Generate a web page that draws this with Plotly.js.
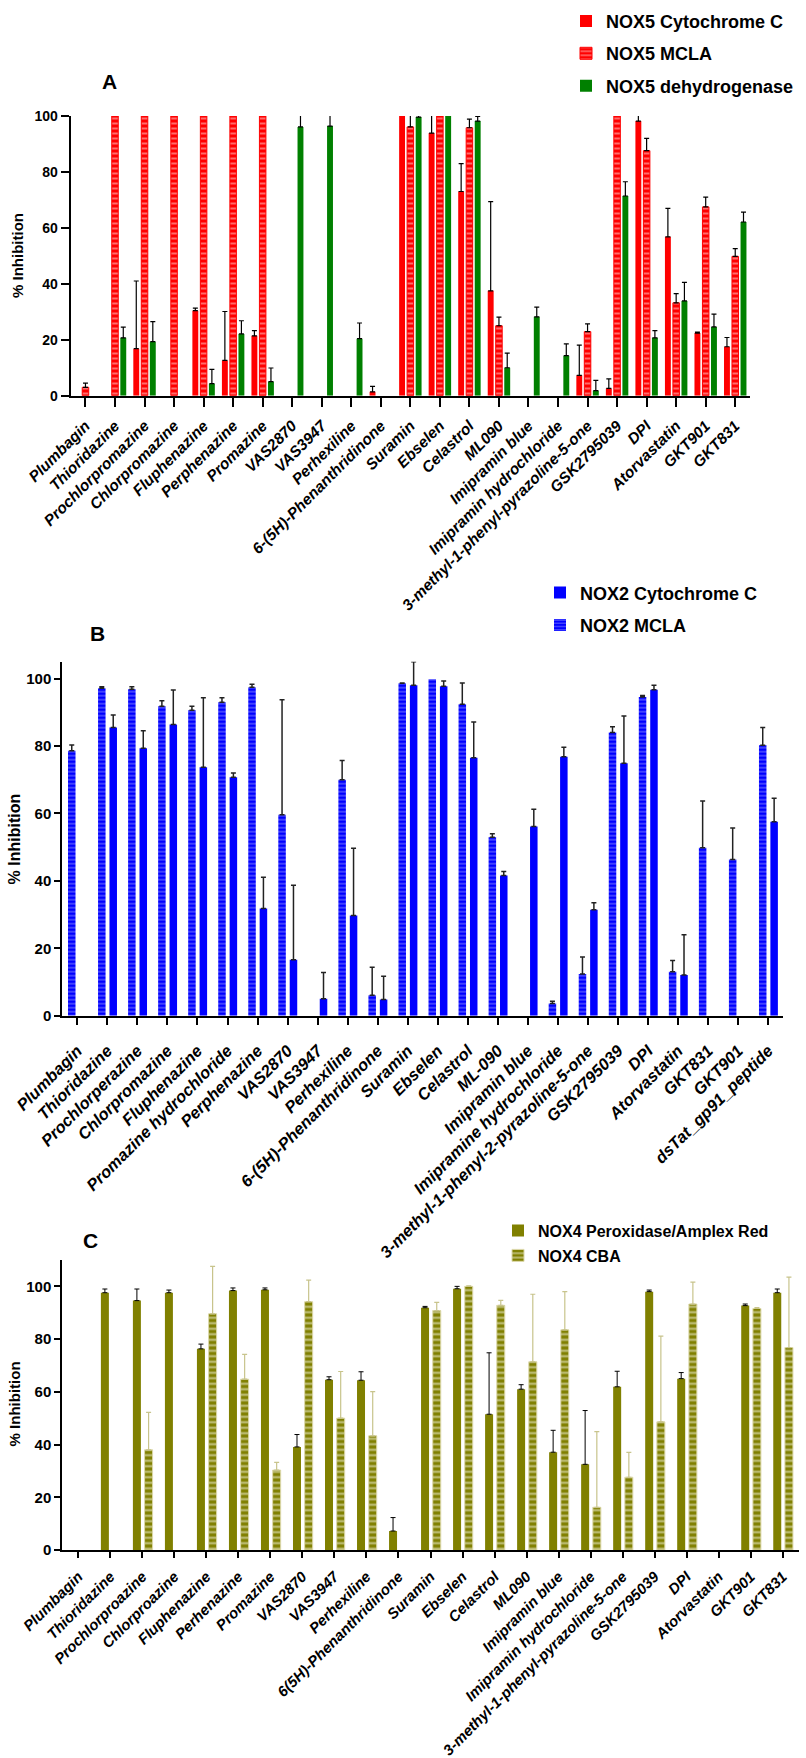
<!DOCTYPE html>
<html>
<head>
<meta charset="utf-8">
<script src="https://cdn.plot.ly/plotly-3.0.1.min.js"></script>
<style>html,body{margin:0;padding:0;background:#fff;}#chart{width:806px;height:1758px;}</style>
</head>
<body>
<div id="chart"></div>
<script>
// ---------- Panel A (NOX5) ----------
const catsA = ["Plumbagin","Thioridazine","Prochlorpromazine","Chlorpromazine","Fluphenazine","Perphenazine","Promazine","VAS2870","VAS3947","Perhexiline","6-(5H)-Phenanthridinone","Suramin","Ebselen","Celastrol","ML090","Imipramin blue","Imipramin hydrochloride","3-methyl-1-phenyl-pyrazoline-5-one","GSK2795039","DPI","Atorvastatin","GKT901","GKT831"];
const nox5CytC    = [null, null, 16.8, null, 30.4, 12.6, 21.4, null, null, null, 1.4, 100, 93.9, 73.0, 37.5, null, null, 7.3, 2.6, 98.2, 56.8, 22.4, 17.5];
const nox5CytCSD  = [null, null, 24.2, null, 0.9, 17.5, 1.9, null, null, null, 1.9, null, 7.6, 10.0, 31.9, null, null, 10.8, 3.4, 3.3, 10.2, 0.3, 3.3];
const nox5MCLA    = [3.0, 100, 100, 100, 100, 100, 100, null, null, null, null, 96.1, 100, 95.8, 25.0, null, null, 22.9, 100, 87.6, 33.2, 67.5, 49.8];
const nox5MCLASD  = [1.5, null, null, null, null, null, null, null, null, null, null, 5.4, null, 3.1, 3.1, null, null, 2.8, null, 4.4, 3.3, 3.5, 2.8];
const nox5Dehyd   = [null, 20.7, 19.3, null, 4.3, 22.1, 5.0, 96.1, 96.4, 20.4, null, 99.6, 100, 98.2, 10.0, 28.2, 14.3, 1.8, 71.4, 20.7, 33.9, 24.6, 62.1];
const nox5DehydSD = [null, 3.8, 7.2, null, 5.1, 4.7, 4.9, 5.4, 5.1, 5.6, null, 1.2, null, 1.7, 5.2, 3.5, 4.2, 3.7, 5.1, 2.6, 6.6, 4.6, 3.5];

// ---------- Panel B (NOX2) ----------
const catsB = ["Plumbagin","Thioridazine","Prochlorperazine","Chlorpromazine","Fluphenazine","Promazine hydrochloride","Perphenazine","VAS2870","VAS3947","Perhexiline","6-(5H)-Phenanthridinone","Suramin","Ebselen","Celastrol","ML-090","Imipramin blue","Imipramine hydrochloride","3-methyl-1-phenyl-2-pyrazoline-5-one","GSK2795039","DPI","Atorvastatin","GKT831","GKT901","dsTat_gp91_peptide"];
const nox2MCLA   = [78.6, 97.1, 96.8, 91.8, 90.6, 93.0, 97.4, 59.6, null, 70.0, 6.1, 98.6, 99.8, 92.4, 52.9, null, 3.6, 12.4, 84.0, 94.5, 13.0, 49.8, 46.3, 80.2];
const nox2MCLASD = [1.7, 0.5, 0.8, 1.6, 1.2, 1.3, 0.9, 34.1, null, 5.7, 8.3, 0.1, null, 6.3, 1.1, null, 0.7, 5.0, 1.7, 0.5, 3.4, 13.9, 9.4, 5.3];
const nox2CytC   = [null, 85.5, 79.3, 86.4, 73.7, 70.7, 31.8, 16.6, 5.0, 29.7, 4.8, 98.0, 97.7, 76.5, 41.6, 56.1, 76.8, 31.4, 74.9, 96.7, 12.1, null, null, 57.5];
const nox2CytCSD = [null, 3.7, 5.2, 10.2, 20.6, 1.3, 9.3, 22.1, 7.8, 20.0, 6.9, 7.0, 1.6, 10.6, 1.2, 5.1, 2.8, 2.1, 14.0, 1.3, 11.9, null, null, 7.0];

// ---------- Panel C (NOX4) ----------
const catsC = ["Plumbagin","Thioridazine","Prochlorproazine","Chlorproazine","Fluphenazine","Perhenazine","Promazine","VAS2870","VAS3947","Perhexiline","6(5H)-Phenanthridinone","Suramin","Ebselen","Celastrol","ML090","Imipramin blue","Imipramin hydrochloride","3-methyl-1-phenyl-pyrazoline-5-one","GSK2795039","DPI","Atorvastatin","GKT901","GKT831"];
const nox4Amplex   = [null, 97.6, 94.6, 97.6, 76.3, 98.4, 98.7, 39.1, 64.6, 64.4, 7.2, 91.9, 99.1, 51.5, 61.0, 37.1, 32.5, 61.9, 98.0, 65.0, null, 92.7, 97.6];
const nox4AmplexSD = [null, 1.4, 4.4, 1.0, 1.8, 1.0, 0.7, 4.7, 1.1, 3.2, 5.1, 0.5, 0.9, 23.3, 1.7, 8.3, 20.4, 5.9, 0.6, 2.3, null, 0.6, 1.4];
const nox4CBA      = [null, null, 38.0, null, 89.6, 64.8, 30.3, 94.2, 50.0, 43.3, null, 90.8, 100, 92.8, 71.4, 83.5, 16.2, 27.6, 48.6, 93.3, null, 91.6, 76.8];
const nox4CBASD    = [null, null, 14.2, null, 18.0, 9.4, 2.9, 8.2, 17.7, 16.8, null, 3.1, 0.2, 1.9, 25.6, 14.5, 28.7, 9.4, 32.5, 8.3, null, 0.3, 26.7];

const yTicks = [0, 20, 40, 60, 80, 100];

// ---------- helpers ----------
function upErr(sd, color, thickness) {
  return {
    type: 'data', symmetric: false, visible: true,
    array: sd.map(s => s === null ? NaN : s),
    arrayminus: sd.map(s => s === null ? NaN : 0),
    color: color, thickness: thickness, width: 2.5
  };
}
function barTrace(o) {
  const t = {
    type: 'bar', name: o.name, x: o.cats, y: o.y,
    xaxis: o.xa, yaxis: o.ya, legend: o.legend, legendgroup: o.name,
    offset: o.center - o.width / 2, width: o.width,
    marker: { color: o.color, line: o.line || { width: 0 } },
    error_y: upErr(o.sd, o.errColor, o.errThick),
    cliponaxis: false, hoverinfo: 'x+y+name'
  };
  if (o.pattern) t.marker.pattern = o.pattern;
  return t;
}

const FONT = 'Liberation Sans, Arial, sans-serif';

const traces = [
  barTrace({name: 'NOX5 Cytochrome C', cats: catsA, y: nox5CytC, sd: nox5CytCSD, xa: 'x', ya: 'y', legend: 'legend',
            center: -0.28, width: 0.2, color: '#ff0000', errColor: '#000', errThick: 1.2}),
  barTrace({name: 'NOX5 MCLA', cats: catsA, y: nox5MCLA, sd: nox5MCLASD, xa: 'x', ya: 'y', legend: 'legend',
            center: 0, width: 0.22, color: '#ff0000', errColor: '#000', errThick: 1.2,
            line: {color: '#ff0000', width: 1},
            pattern: {shape: '-', bgcolor: '#ff0000', fgcolor: 'rgba(255,255,255,0.85)', size: 5, solidity: 0.4, fillmode: 'overlay'}}),
  barTrace({name: 'NOX5 dehydrogenase', cats: catsA, y: nox5Dehyd, sd: nox5DehydSD, xa: 'x', ya: 'y', legend: 'legend',
            center: 0.28, width: 0.2, color: '#008000', errColor: '#000', errThick: 1.2}),

  barTrace({name: 'NOX2 Cytochrome C', cats: catsB, y: nox2CytC, sd: nox2CytCSD, xa: 'x2', ya: 'y2', legend: 'legend2',
            center: 0.195, width: 0.25, color: '#0000ff', errColor: '#222', errThick: 1.5}),
  barTrace({name: 'NOX2 MCLA', cats: catsB, y: nox2MCLA, sd: nox2MCLASD, xa: 'x2', ya: 'y2', legend: 'legend2',
            center: -0.185, width: 0.25, color: '#0000ff', errColor: '#222', errThick: 1.5,
            pattern: {shape: '-', bgcolor: '#0000ff', fgcolor: 'rgba(255,255,255,0.85)', size: 4, solidity: 0.3, fillmode: 'overlay'}}),

  barTrace({name: 'NOX4 Peroxidase/Amplex Red', cats: catsC, y: nox4Amplex, sd: nox4AmplexSD, xa: 'x3', ya: 'y3', legend: 'legend3',
            center: -0.17, width: 0.25, color: '#808000', errColor: '#000', errThick: 1}),
  barTrace({name: 'NOX4 CBA', cats: catsC, y: nox4CBA, sd: nox4CBASD, xa: 'x3', ya: 'y3', legend: 'legend3',
            center: 0.195, width: 0.25, color: '#808000', errColor: '#c8c48c', errThick: 1.2,
            line: {color: '#dcd8aa', width: 1},
            pattern: {shape: '-', bgcolor: '#808000', fgcolor: '#f2f1dc', size: 5.5, solidity: 0.45, fillmode: 'overlay'}})
];
traces[3].legendrank = 1; traces[4].legendrank = 2;

const W = 806, H = 1758;
const px = v => v / W;
const py = v => 1 - v / H;

function xAxis(cats, left, right, anchor, fsize, tlen, standoff) {
  return {
    domain: [px(left), px(right)], anchor: anchor, type: 'category',
    categoryorder: 'array', categoryarray: cats,
    range: [-0.5, cats.length - 0.5],
    tickmode: 'array', tickvals: cats, ticktext: cats,
    tickangle: -45, ticks: 'outside', ticklen: tlen, tickwidth: 2, tickcolor: '#000',
    ticklabelstandoff: standoff,
    showline: true, linewidth: 2, linecolor: '#000', showgrid: false, zeroline: false,
    tickfont: {family: FONT, size: fsize, color: '#000', weight: 'bold', style: 'italic'},
    fixedrange: true
  };
}
function yAxis(top, bottom, anchor, maxv, fsize, tlen) {
  return {
    domain: [py(bottom), py(top)], anchor: anchor, range: [0, maxv],
    tickmode: 'array', tickvals: yTicks, ticks: 'outside', ticklen: tlen, tickwidth: 2, tickcolor: '#000',
    showline: true, linewidth: 2, linecolor: '#000', showgrid: false, zeroline: false,
    tickfont: {family: FONT, size: fsize, color: '#000', weight: 'bold'},
    fixedrange: true
  };
}
function legendBox(textLeft, midY, fsize, gap) {
  return {
    x: px(textLeft - 40), xanchor: 'left', y: py(midY), yanchor: 'middle',
    bgcolor: 'rgba(0,0,0,0)', borderwidth: 0, traceorder: 'grouped', tracegroupgap: gap,
    font: {family: FONT, size: fsize, color: '#000', weight: 'bold'}
  };
}
function ann(text, x, y, size, angle) {
  return {text: text, xref: 'paper', yref: 'paper', x: px(x), y: py(y), xanchor: 'center', yanchor: 'middle',
          showarrow: false, textangle: angle || 0, font: {family: FONT, size: size, color: '#000', weight: 'bold'}};
}

const layout = {
  width: W, height: H, margin: {l: 0, r: 0, t: 0, b: 0},
  paper_bgcolor: '#fff', plot_bgcolor: '#fff', barmode: 'overlay',
  font: {family: FONT, color: '#000'},
  xaxis:  xAxis(catsA, 70.7, 750, 'y', 15.5, 9, 4),
  yaxis:  yAxis(116, 395.7, 'x', 100, 14, 8),
  xaxis2: xAxis(catsB, 62.3, 783.3, 'y2', 16.5, 7, 10),
  yaxis2: yAxis(661.7, 1015.7, 'x2', 105, 15, 6),
  xaxis3: xAxis(catsC, 62.3, 798.7, 'y3', 15, 6, 4),
  yaxis3: yAxis(1260, 1550, 'x3', 110, 15, 6),
  legend:  legendBox(606, 53.7, 18, 6),
  legend2: legendBox(580, 608.8, 18, 6),
  legend3: legendBox(538, 1243.2, 16, 1),
  annotations: [
    ann('A', 109, 81, 21), ann('B', 97, 633, 21), ann('C', 90.5, 1240, 21),
    ann('% Inhibition', 17, 256, 15, -90),
    ann('% Inhibition', 14.4, 839, 16, -90),
    ann('% Inhibition', 14.4, 1404, 15, -90)
  ],
  showlegend: true
};

Plotly.newPlot('chart', traces, layout, {displayModeBar: false, staticPlot: true});
</script>
</body>
</html>
